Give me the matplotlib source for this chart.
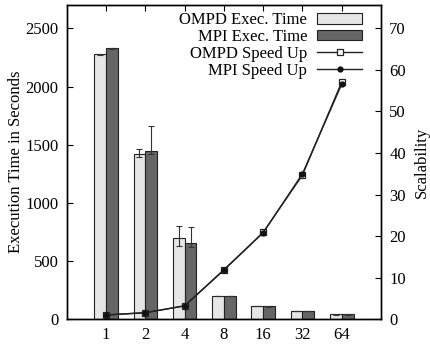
import numpy as np
import matplotlib
matplotlib.use("Agg")
import matplotlib.pyplot as plt

plt.rcParams["font.family"] = ["Liberation Serif", "DejaVu Serif"]
plt.rcParams["font.size"] = 12

procs = ["1", "2", "4", "8", "16", "32", "64"]
ompd_time = [2276, 1422, 694, 200, 112, 69, 40]
mpi_time = [2328, 1447, 651, 200, 110, 69, 40]
ompd_err_low = [5, 30, 67, 3, 2, 1, 1]
ompd_err_high = [5, 40, 106, 3, 2, 1, 1]
mpi_err_low = [8, 30, 30, 3, 2, 1, 1]
mpi_err_high = [8, 213, 137, 3, 2, 1, 1]
ompd_speedup = [1.0, 1.55, 3.2, 11.8, 20.9, 34.7, 57.1]
mpi_speedup = [1.0, 1.55, 3.2, 11.9, 20.8, 35.0, 56.6]

x = np.arange(1, len(procs) + 1)
w = 0.3

fig, ax = plt.subplots(figsize=(4.31, 3.45), dpi=100)
fig.subplots_adjust(left=0.155, right=0.884, top=0.985, bottom=0.075)

ekw = dict(ecolor="#333333", elinewidth=0.8, capsize=2.5, capthick=0.8)
b1 = ax.bar(x - w / 2, ompd_time, w, color="#e6e6e6", edgecolor="#222222", linewidth=0.8,
            yerr=[ompd_err_low, ompd_err_high], error_kw=ekw, label="OMPD Exec. Time")
b2 = ax.bar(x + w / 2, mpi_time, w, color="#666666", edgecolor="#222222", linewidth=0.8,
            yerr=[mpi_err_low, mpi_err_high], error_kw=ekw, label="MPI Exec. Time")

ax.set_xlim(0, 8)
ax.set_ylim(0, 2700)
ax.set_xticks(x)
ax.set_xticklabels(procs)
ax.set_yticks([0, 500, 1000, 1500, 2000, 2500])
ax.set_ylabel("Execution Time in Seconds", labelpad=1)
ax.tick_params(axis="x", direction="in", top=True, bottom=False, length=4, pad=6)
ax.tick_params(axis="y", direction="in", length=4, pad=6)

ax2 = ax.twinx()
ax2.set_ylim(0, 2700 * 70 / 2500)
ax2.set_yticks([0, 10, 20, 30, 40, 50, 60, 70])
ax2.set_ylabel("Scalability", labelpad=6)
ax2.tick_params(axis="y", direction="in", length=4, pad=6)
l1, = ax2.plot(x, ompd_speedup, color="#222222", linewidth=1.0, marker="s", markersize=5,
               markerfacecolor="white", markeredgecolor="#222222", markeredgewidth=0.9, label="OMPD Speed Up")
l2, = ax2.plot(x, mpi_speedup, color="#222222", linewidth=1.0, marker="o", markersize=3.5,
               markerfacecolor="#111111", markeredgecolor="#111111", label="MPI Speed Up")

for a in (ax, ax2):
    for s in a.spines.values():
        s.set_linewidth(1.0)

leg = ax2.legend([b1, b2, l1, l2], ["OMPD Exec. Time", "MPI Exec. Time", "OMPD Speed Up", "MPI Speed Up"],
                 loc="upper right", bbox_to_anchor=(0.946, 0.983), frameon=False, markerfirst=False,
                 handlelength=2.7, handleheight=0.6, labelspacing=0.05, borderaxespad=0.0,
                 handletextpad=0.6, borderpad=0.1)
for t in leg.get_texts():
    t.set_ha("right")

fig.savefig("out.png", dpi=100)
